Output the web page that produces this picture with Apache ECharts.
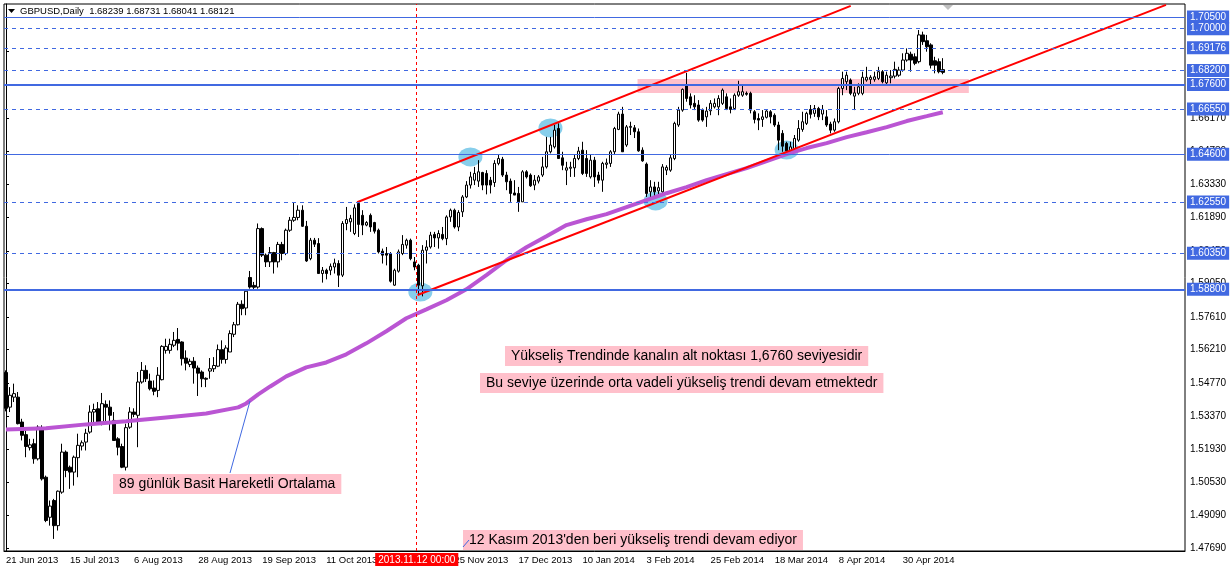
<!DOCTYPE html>
<html><head><meta charset="utf-8">
<script src="https://cdn.jsdelivr.net/npm/echarts@6/dist/echarts.min.js"></script>
<style>html,body{margin:0;padding:0;background:#fff;}#c{width:1231px;height:571px;}</style>
</head><body><div id="c"></div>
<script>
// ---- data ----
const symbolTitle = 'GBPUSD,Daily  1.68239 1.68731 1.68041 1.68121';
// daily candles [open, high, low, close]
const candles = [
[1.5523,1.5532,1.5356,1.5369],[1.5374,1.5460,1.5353,1.5425],[1.5417,1.5475,1.5396,1.5432],[1.5417,1.5439,1.5300,1.5303],
[1.5310,1.5324,1.5231,1.5253],[1.5256,1.5274,1.5159,1.5205],[1.5200,1.5238,1.5188,1.5212],[1.5217,1.5238,1.5131,1.5152],
[1.5152,1.5296,1.5145,1.5288],[1.5281,1.5296,1.5059,1.5066],[1.5073,1.5080,1.4880,1.4887],[1.4901,1.4973,1.4865,1.4949],
[1.4973,1.4980,1.4808,1.4865],[1.4865,1.5016,1.4844,1.5013],[1.5009,1.5217,1.5002,1.5181],[1.5181,1.5188,1.5073,1.5102],
[1.5116,1.5123,1.5023,1.5095],[1.5095,1.5166,1.5037,1.5159],[1.5157,1.5260,1.5073,1.5210],[1.5207,1.5231,1.5188,1.5221],
[1.5224,1.5281,1.5188,1.5262],[1.5267,1.5382,1.5260,1.5353],[1.5353,1.5389,1.5303,1.5364],[1.5367,1.5396,1.5303,1.5310],
[1.5310,1.5435,1.5296,1.5389],[1.5386,1.5403,1.5310,1.5374],[1.5374,1.5403,1.5274,1.5339],[1.5317,1.5353,1.5231,1.5231],
[1.5238,1.5245,1.5167,1.5202],[1.5205,1.5217,1.5112,1.5116],[1.5116,1.5303,1.5102,1.5286],[1.5288,1.5374,1.5281,1.5353],
[1.5353,1.5369,1.5331,1.5343],[1.5339,1.5525,1.5202,1.5482],[1.5482,1.5568,1.5475,1.5532],[1.5532,1.5554,1.5482,1.5496],
[1.5486,1.5518,1.5446,1.5453],[1.5456,1.5489,1.5425,1.5442],[1.5446,1.5546,1.5417,1.5511],[1.5492,1.5640,1.5489,1.5635],
[1.5618,1.5668,1.5604,1.5635],[1.5618,1.5668,1.5604,1.5644],[1.5640,1.5697,1.5632,1.5661],[1.5665,1.5714,1.5618,1.5649],
[1.5654,1.5657,1.5553,1.5582],[1.5585,1.5618,1.5532,1.5563],[1.5557,1.5582,1.5546,1.5571],[1.5571,1.5589,1.5475,1.5542],
[1.5542,1.5553,1.5422,1.5520],[1.5525,1.5532,1.5460,1.5496],[1.5498,1.5502,1.5460,1.5494],[1.5529,1.5585,1.5496,1.5539],
[1.5539,1.5589,1.5525,1.5553],[1.5550,1.5643,1.5546,1.5621],[1.5621,1.5661,1.5561,1.5579],[1.5579,1.5640,1.5561,1.5628],
[1.5611,1.5704,1.5611,1.5690],[1.5687,1.5740,1.5675,1.5728],[1.5728,1.5826,1.5725,1.5816],[1.5816,1.5833,1.5769,1.5797],
[1.5800,1.5879,1.5769,1.5872],[1.5931,1.5959,1.5883,1.5890],[1.5897,1.5912,1.5879,1.5889],[1.5890,1.6163,1.5883,1.6141],
[1.6141,1.6146,1.6019,1.6027],[1.6027,1.6034,1.5976,1.5998],[1.5998,1.6062,1.5976,1.6038],[1.6038,1.6041,1.5948,1.5998],
[1.5998,1.6084,1.5974,1.6073],[1.6073,1.6084,1.6005,1.6034],[1.6034,1.6141,1.6027,1.6134],[1.6134,1.6191,1.6127,1.6177],
[1.6177,1.6253,1.6170,1.6189],[1.6189,1.6241,1.6177,1.6220],[1.6220,1.6241,1.6148,1.6151],[1.6151,1.6174,1.5998,1.6002],
[1.6012,1.6101,1.6005,1.6091],[1.6091,1.6101,1.6062,1.6074],[1.6077,1.6100,1.5948,1.5948],[1.5948,1.5976,1.5909,1.5962],
[1.5962,1.5969,1.5923,1.5948],[1.5962,1.5991,1.5941,1.5979],[1.5976,1.6012,1.5948,1.5993],[1.5991,1.6005,1.5890,1.5941],
[1.5941,1.6173,1.5933,1.6163],[1.6163,1.6234,1.6134,1.6180],[1.6170,1.6200,1.6127,1.6185],[1.6120,1.6245,1.6113,1.6230],
[1.6249,1.6258,1.6105,1.6159],[1.6198,1.6220,1.6113,1.6156],[1.6156,1.6173,1.6151,1.6167],[1.6198,1.6206,1.6127,1.6148],
[1.6167,1.6170,1.6120,1.6130],[1.6134,1.6141,1.6034,1.6041],[1.6044,1.6055,1.5991,1.6027],[1.6034,1.6062,1.5983,1.6027],
[1.6034,1.6040,1.5909,1.5915],[1.5898,1.5969,1.5895,1.5962],[1.5958,1.6051,1.5952,1.6041],[1.6034,1.6113,1.6027,1.6073],
[1.6070,1.6098,1.6055,1.6091],[1.6091,1.6098,1.6005,1.6012],[1.5998,1.6019,1.5962,1.5976],[1.5984,1.5990,1.5855,1.5898],
[1.5895,1.6070,1.5850,1.6048],[1.6048,1.6091,1.5991,1.6062],[1.6062,1.6127,1.6055,1.6113],[1.6116,1.6127,1.6062,1.6101],
[1.6101,1.6134,1.6055,1.6120],[1.6116,1.6148,1.6091,1.6098],[1.6098,1.6198,1.6070,1.6191],[1.6191,1.6227,1.6170,1.6220],
[1.6220,1.6227,1.6141,1.6148],[1.6148,1.6220,1.6130,1.6210],[1.6213,1.6285,1.6191,1.6277],[1.6277,1.6345,1.6272,1.6328],
[1.6328,1.6385,1.6313,1.6363],[1.6349,1.6406,1.6328,1.6378],[1.6345,1.6435,1.6320,1.6385],[1.6382,1.6385,1.6306,1.6328],
[1.6378,1.6392,1.6288,1.6328],[1.6349,1.6363,1.6292,1.6328],[1.6339,1.6435,1.6320,1.6421],[1.6421,1.6457,1.6413,1.6442],
[1.6439,1.6449,1.6363,1.6371],[1.6371,1.6385,1.6306,1.6342],[1.6345,1.6356,1.6256,1.6292],[1.6294,1.6349,1.6285,1.6285],
[1.6292,1.6320,1.6213,1.6256],[1.6256,1.6392,1.6256,1.6385],[1.6385,1.6392,1.6356,1.6363],[1.6371,1.6378,1.6320,1.6325],
[1.6328,1.6371,1.6306,1.6349],[1.6345,1.6371,1.6335,1.6363],[1.6371,1.6449,1.6363,1.6406],[1.6406,1.6535,1.6399,1.6471],
[1.6471,1.6535,1.6464,1.6500],[1.6492,1.6586,1.6485,1.6564],[1.6571,1.6593,1.6442,1.6442],[1.6445,1.6471,1.6392,1.6413],
[1.6392,1.6428,1.6328,1.6402],[1.6400,1.6428,1.6363,1.6405],[1.6402,1.6457,1.6363,1.6442],[1.6442,1.6492,1.6435,1.6474],
[1.6478,1.6514,1.6371,1.6378],[1.6442,1.6478,1.6363,1.6378],[1.6363,1.6457,1.6356,1.6435],[1.6435,1.6449,1.6320,1.6363],
[1.6371,1.6385,1.6335,1.6349],[1.6349,1.6428,1.6299,1.6421],[1.6417,1.6442,1.6399,1.6423],[1.6421,1.6478,1.6406,1.6471],
[1.6471,1.6578,1.6457,1.6571],[1.6567,1.6643,1.6564,1.6633],[1.6633,1.6664,1.6471,1.6471],[1.6500,1.6586,1.6492,1.6578],
[1.6576,1.6600,1.6543,1.6580],[1.6574,1.6586,1.6530,1.6557],[1.6557,1.6571,1.6471,1.6475],[1.6478,1.6490,1.6428,1.6432],
[1.6418,1.6425,1.6277,1.6292],[1.6299,1.6349,1.6270,1.6320],[1.6320,1.6342,1.6270,1.6299],[1.6303,1.6342,1.6277,1.6317],
[1.6299,1.6418,1.6295,1.6406],[1.6392,1.6413,1.6371,1.6404],[1.6392,1.6457,1.6385,1.6445],[1.6442,1.6600,1.6435,1.6593],
[1.6586,1.6664,1.6578,1.6650],[1.6650,1.6743,1.6643,1.6739],[1.6758,1.6810,1.6686,1.6700],[1.6707,1.6722,1.6657,1.6672],
[1.6679,1.6714,1.6650,1.6664],[1.6672,1.6693,1.6600,1.6607],[1.6650,1.6657,1.6600,1.6607],[1.6621,1.6664,1.6578,1.6646],
[1.6647,1.6693,1.6628,1.6679],[1.6664,1.6700,1.6657,1.6679],[1.6664,1.6714,1.6628,1.6700],[1.6679,1.6743,1.6672,1.6736],
[1.6707,1.6722,1.6650,1.6657],[1.6664,1.6700,1.6636,1.6653],[1.6657,1.6722,1.6650,1.6714],[1.6714,1.6776,1.6707,1.6729],
[1.6714,1.6758,1.6707,1.6729],[1.6722,1.6730,1.6712,1.6718],[1.6722,1.6729,1.6636,1.6650],[1.6643,1.6650,1.6593,1.6610],
[1.6614,1.6636,1.6564,1.6607],[1.6610,1.6650,1.6578,1.6621],[1.6619,1.6650,1.6614,1.6646],[1.6643,1.6650,1.6593,1.6621],
[1.6628,1.6636,1.6578,1.6586],[1.6586,1.6600,1.6478,1.6521],[1.6550,1.6564,1.6471,1.6495],[1.6507,1.6514,1.6464,1.6475],
[1.6475,1.6514,1.6457,1.6492],[1.6485,1.6543,1.6471,1.6528],[1.6521,1.6607,1.6514,1.6571],[1.6567,1.6643,1.6557,1.6600],
[1.6593,1.6643,1.6586,1.6636],[1.6653,1.6672,1.6614,1.6632],[1.6636,1.6672,1.6621,1.6657],[1.6657,1.6664,1.6607,1.6621],
[1.6633,1.6672,1.6607,1.6653],[1.6621,1.6650,1.6578,1.6586],[1.6590,1.6600,1.6550,1.6564],[1.6564,1.6614,1.6557,1.6600],
[1.6600,1.6750,1.6593,1.6743],[1.6743,1.6815,1.6714,1.6786],[1.6772,1.6815,1.6736,1.6800],[1.6779,1.6786,1.6714,1.6722],
[1.6710,1.6750,1.6650,1.6724],[1.6722,1.6765,1.6714,1.6750],[1.6722,1.6815,1.6714,1.6791],[1.6779,1.6836,1.6772,1.6791],
[1.6782,1.6800,1.6758,1.6791],[1.6782,1.6815,1.6772,1.6793],[1.6786,1.6836,1.6779,1.6815],[1.6815,1.6822,1.6765,1.6772],
[1.6767,1.6815,1.6758,1.6800],[1.6789,1.6822,1.6765,1.6796],[1.6796,1.6858,1.6786,1.6825],[1.6800,1.6836,1.6793,1.6822],
[1.6822,1.6894,1.6815,1.6865],[1.6865,1.6915,1.6858,1.6894],[1.6890,1.6901,1.6815,1.6865],[1.6879,1.6894,1.6843,1.6851],
[1.6858,1.6994,1.6851,1.6973],[1.6973,1.6987,1.6930,1.6944],[1.6948,1.6973,1.6901,1.6922],[1.6930,1.6937,1.6829,1.6843],
[1.6862,1.6879,1.6808,1.6843],[1.6858,1.6872,1.6808,1.6815],[1.68239,1.68731,1.68041,1.68121]
];
// 89-day simple moving average, read at bar positions
const maBars = [0,10,20,30,40,50,58,60,63,66,70,75,80,85,90,95,100,105,110,115,120,125,130,135,140,145,150,155,160,165,170,175,180,185,190,195,200,205,210,215,220,225,230,234];
const maValues = [1.5278,1.5283,1.5300,1.5313,1.5330,1.5347,1.5373,1.5390,1.5429,1.5463,1.5506,1.5545,1.5566,1.5601,1.5648,1.5700,1.5756,1.5794,1.5833,1.5880,1.5941,1.6005,1.6061,1.6108,1.6156,1.6181,1.6203,1.6233,1.6263,1.6293,1.6319,1.6349,1.6375,1.6401,1.6431,1.6461,1.6487,1.6508,1.6534,1.6555,1.6577,1.6603,1.6624,1.6641];
// date ticks (bar index -> label)
const dateTickBars = [0,16,32,48,64,80,96,112,128,144,160,176,192,208,224];
const dateTickLabels = ['21 Jun 2013','15 Jul 2013','6 Aug 2013','28 Aug 2013','19 Sep 2013','11 Oct 2013','4 Nov 2013','25 Nov 2013','17 Dec 2013','10 Jan 2014','3 Feb 2014','25 Feb 2014','18 Mar 2014','8 Apr 2014','30 Apr 2014'];
// price scale ticks
const priceTicks = [1.47690,1.49090,1.50530,1.51930,1.53370,1.54770,1.56210,1.57610,1.59050,1.60450,1.61890,1.63330,1.64730,1.66170,1.67570,1.69010];
// horizontal levels
const solidLevels = [1.70500,1.67600,1.64600,1.58800];
const thickLevels = [1.67600,1.58800];
const dashedLevels = [1.70000,1.69176,1.68200,1.66550,1.62550,1.60350];
// trend channel (bar index, price)
const channelUpper = [[87.7,1.6254],[211,1.7098]];
const channelLower = [[102.8,1.5856],[289.75,1.7102]];
// touch points highlighted with ellipses
const touchBars = [103.5,116,136,162.25,195];
const touchPrices = [1.5869,1.6449,1.6573,1.6260,1.6479];
// support zone
const zoneBars = [157.75,240.5];
const zonePrices = [1.6724,1.6784];
// vertical marker
const markerBar = 102.6;
const markerLabel = '2013.11.12 00:00';
// annotations
const notes = [
  'Yükseliş Trendinde kanalın alt noktası 1,6760 seviyesidir',
  'Bu seviye üzerinde orta vadeli yükseliş trendi devam etmektedr',
  '89 günlük Basit Hareketli Ortalama',
  "12 Kasım 2013'den beri yükseliş trendi devam ediyor"
];

// ---- chart ----
const SLOTS = 295;
const Y_MIN = 1.47561, Y_MAX = 1.71058;
const FONT = 'Liberation Sans';
const BLUE = '#4169E1';
const cats = Array.from({length: SLOTS}, (_, i) => String(i));
const tickMap = {};
dateTickBars.forEach((b, k) => tickMap[b] = dateTickLabels[k]);
const isTick = (i) => tickMap[i] !== undefined;

const priceBoxLabel = {
  show: true, position: 'end', distance: 2,
  formatter: (p) => Number(p.value).toFixed(5),
  backgroundColor: BLUE, color: '#fff', padding: [2, 3, 1, 3],
  fontSize: 10, fontFamily: FONT
};
const levelLines = [];
solidLevels.forEach(v => levelLines.push({
  yAxis: v,
  lineStyle: {color: BLUE, type: 'solid', width: thickLevels.includes(v) ? 2 : 1},
  label: priceBoxLabel
}));
dashedLevels.forEach(v => levelLines.push({
  yAxis: v,
  lineStyle: {color: BLUE, type: [4, 4], width: 1},
  label: priceBoxLabel
}));
levelLines.push({
  xAxis: markerBar,
  lineStyle: {color: '#FF0000', type: [3, 3], width: 1},
  label: {show: true, position: 'start', distance: 2, formatter: markerLabel,
    backgroundColor: '#FF0000', color: '#fff', padding: [2, 3, 1, 3], fontSize: 10, fontFamily: FONT}
});

const NOTE_FONT = '14px "Liberation Sans"';
const chart = echarts.init(document.getElementById('c'), null, {renderer: 'canvas', width: 1231, height: 571});
const option = {
  animation: false,
  backgroundColor: '#fff',
  grid: {left: 4, right: 46, top: 4, bottom: 20, show: true, borderColor: '#000', borderWidth: 1},
  xAxis: [
    {
      type: 'category', data: cats, boundaryGap: true,
      axisLine: {lineStyle: {color: '#000'}},
      axisTick: {interval: (i) => isTick(i), alignWithLabel: true, length: 4, lineStyle: {color: '#000'}},
      axisLabel: {interval: (i) => isTick(i), formatter: (v) => tickMap[v] || '', align: 'left',
        margin: 4, fontSize: 9.5, fontFamily: FONT, color: '#000'},
      splitLine: {show: false}
    },
    {type: 'value', min: -0.5, max: SLOTS - 0.5, show: false}
  ],
  yAxis: {
    type: 'value', position: 'right', min: Y_MIN, max: Y_MAX,
    axisLine: {show: true, lineStyle: {color: '#000'}},
    axisTick: {show: true, customValues: priceTicks, length: 3, lineStyle: {color: '#000'}},
    axisLabel: {customValues: priceTicks, formatter: (v) => v.toFixed(5), fontSize: 10, fontFamily: FONT, color: '#000', margin: 5},
    splitLine: {show: false}
  },
  series: [
    {
      type: 'scatter', xAxisIndex: 1, silent: true, z: 1,
      data: touchBars.map((b, k) => [b, touchPrices[k]]),
      symbol: 'circle', symbolSize: [24, 19],
      itemStyle: {color: '#87CEEB', opacity: 1},
      markArea: {silent: true, itemStyle: {color: '#FFC0CB', opacity: 1},
        data: [[{coord: [zoneBars[0], zonePrices[1]]}, {coord: [zoneBars[1], zonePrices[0]]}]]}
    },
    {
      type: 'candlestick', xAxisIndex: 0, z: 2, barWidth: 3, silent: true,
      data: candles.map(([o, h, l, c]) => [o, c, l, h]),
      itemStyle: {color: '#fff', color0: '#000', borderColor: '#000', borderColor0: '#000', borderWidth: 1}
    },
    {
      type: 'line', xAxisIndex: 1, z: 3, symbol: 'none', silent: true,
      data: maBars.map((b, k) => [b, maValues[k]]),
      lineStyle: {color: '#BA55D3', width: 4}
    },
    {
      type: 'line', xAxisIndex: 1, z: 4, symbol: 'none', silent: true,
      data: channelUpper, lineStyle: {color: '#FF0000', width: 2}
    },
    {
      type: 'line', xAxisIndex: 1, z: 4, symbol: 'none', silent: true,
      data: channelLower, lineStyle: {color: '#FF0000', width: 2},
      markLine: {silent: true, symbol: ['none', 'none'], precision: 5, animation: false, data: levelLines}
    }
  ],
  graphic: [
    {type: 'polygon', shape: {points: [[8, 9], [15, 9], [11.5, 13]]}, style: {fill: '#000'}, z: 10},
    {type: 'text', left: 20, top: 6, z: 10, style: {text: symbolTitle, font: '9.5px "Liberation Sans"', fill: '#000'}},
    {type: 'polygon', shape: {points: [[943, 5], [953, 5], [948, 10]]}, style: {fill: '#C0C0C0'}, z: 10},
    {type: 'text', left: 505, top: 346, z: 10, style: {text: notes[0], font: NOTE_FONT, fill: '#000', backgroundColor: '#FFC0CB', padding: [3, 6, 3, 6]}},
    {type: 'text', left: 480, top: 373, z: 10, style: {text: notes[1], font: NOTE_FONT, fill: '#000', backgroundColor: '#FFC0CB', padding: [3, 6, 3, 6]}},
    {type: 'text', left: 113, top: 474, z: 10, style: {text: notes[2], font: NOTE_FONT, fill: '#000', backgroundColor: '#FFC0CB', padding: [3, 6, 3, 6]}},
    {type: 'text', left: 463, top: 530, z: 10, style: {text: notes[3], font: NOTE_FONT, fill: '#000', backgroundColor: '#FFC0CB', padding: [3, 6, 3, 6]}},
    {type: 'line', z: 10, shape: {x1: 230, y1: 473, x2: 250, y2: 401}, style: {stroke: BLUE, lineWidth: 1}},
    {type: 'line', z: 10, shape: {x1: 463, y1: 547, x2: 469, y2: 540}, style: {stroke: BLUE, lineWidth: 1}}
  ]
};
chart.setOption(option);
</script>
</body></html>
